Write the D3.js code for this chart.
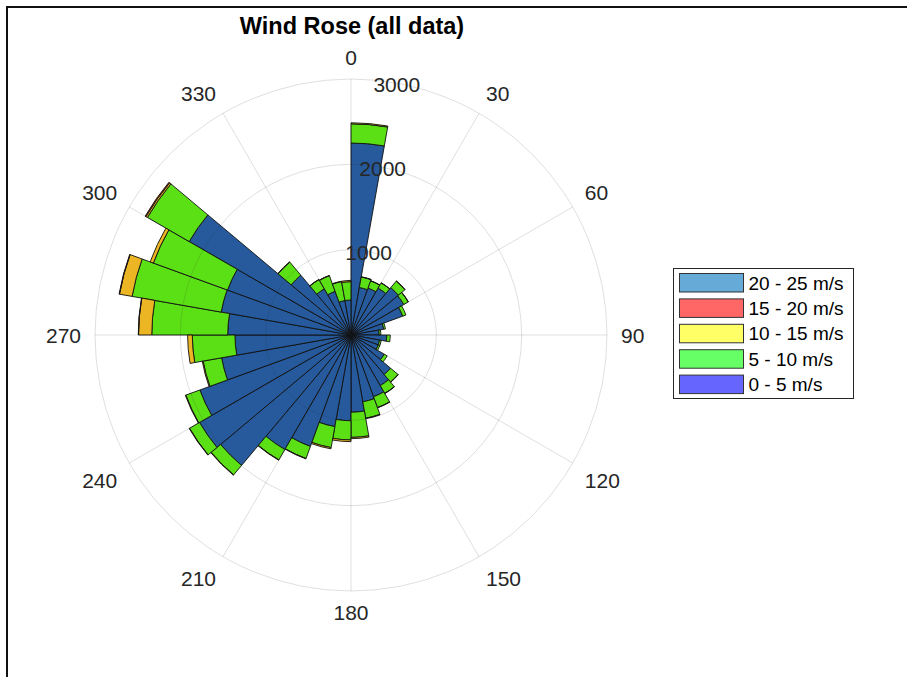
<!DOCTYPE html>
<html>
<head>
<meta charset="utf-8">
<script src="https://cdn.jsdelivr.net/npm/d3@7"></script>
<style>
  html, body { margin: 0; padding: 0; background: #fff; }
  svg { display: block; font-family: "Liberation Sans", Arial, Helvetica, sans-serif; }
</style>
</head>
<body>
<svg id="chart" width="907" height="677"></svg>
<script>
// Direction bins (start of each 10-degree sector, clockwise from north)
const directions = d3.range(0, 360, 10);

// Counts per sector for each wind-speed class
const speed0to5 = [2250, 565, 585, 635, 725, 715, 645, 390, 330, 420, 340, 340,
                   450, 605, 685, 770, 795, 905, 1005, 1090, 1390, 1550, 1995, 2050,
                   1885, 1540, 1360, 1445, 1545, 1540, 2190, 915, 625, 545, 410, 410];
const speed5to10 = [225, 125, 90, 70, 100, 60, 40, 20, 20, 40, 20, 20,
                    40, 115, 105, 135, 195, 295, 225, 250, 150, 140, 145, 135,
                    175, 220, 500, 890, 1060, 925, 565, 200, 125, 195, 225, 215];
const speed10to15 = [12, 3, 2, 2, 3, 2, 0, 0, 0, 0, 0, 0,
                     0, 3, 3, 4, 6, 15, 20, 15, 5, 5, 5, 5,
                     6, 10, 55, 155, 150, 40, 20, 5, 3, 3, 5, 15];
const speed15to20 = [0, 0, 0, 0, 0, 0, 0, 0, 0, 0, 0, 0,
                     0, 0, 0, 0, 0, 0, 0, 0, 0, 0, 0, 0,
                     0, 0, 0, 3, 5, 0, 10, 0, 0, 0, 0, 0];
const speed20to25 = new Array(36).fill(0);

const speedLabels = ["0 - 5 m/s", "5 - 10 m/s", "10 - 15 m/s", "15 - 20 m/s", "20 - 25 m/s"];
const barColors = ["#265a9c", "#5be016", "#ebb523", "#d9402f", "#4d9bd1"];
const legendColors = ["#6666ff", "#66ff66", "#ffff66", "#ff6666", "#66aad8"];

const radialTicks = [1000, 2000, 3000];
const angleTicks = d3.range(0, 360, 30);

const keys = ["s0", "s1", "s2", "s3", "s4"];
const series = [speed0to5, speed5to10, speed10to15, speed15to20, speed20to25];
const table = directions.map((d, i) => {
  const row = { dir: d };
  keys.forEach((k, j) => { row[k] = series[j][i]; });
  return row;
});

const svg = d3.select("#chart");
const cx = 351, cy = 335, rMax = 256;
const textColor = "#262626";

// Figure frame
svg.append("rect")
  .attr("x", 7).attr("y", 7).attr("width", 1000).attr("height", 1000)
  .attr("fill", "none").attr("stroke", "#111").attr("stroke-width", 2);

const r = d3.scaleLinear().domain([0, 3000]).range([0, rMax]);
const g = svg.append("g").attr("transform", `translate(${cx},${cy})`);

// Stacked sectors
const stacked = d3.stack().keys(keys)(table);
const arc = d3.arc()
  .innerRadius(d => r(d[0]))
  .outerRadius(d => r(d[1]))
  .startAngle(d => d.data.dir * Math.PI / 180)
  .endAngle(d => (d.data.dir + 10) * Math.PI / 180);

stacked.forEach((layer, j) => {
  g.append("g")
    .selectAll("path")
    .data(layer.filter(d => d[1] > d[0]))
    .join("path")
    .attr("d", arc)
    .attr("fill", barColors[j])
    .attr("stroke", "#111")
    .attr("stroke-width", 0.9)
    .attr("stroke-linejoin", "round");
});

// Polar grid on top of the bars
const grid = g.append("g").attr("stroke", "#262626").attr("stroke-opacity", 0.15).attr("fill", "none");
grid.selectAll("circle")
  .data(radialTicks)
  .join("circle")
  .attr("r", d => r(d))
  .attr("stroke-width", 1);
grid.selectAll("line")
  .data(angleTicks)
  .join("line")
  .attr("x1", 0).attr("y1", 0)
  .attr("x2", d => rMax * Math.sin(d * Math.PI / 180))
  .attr("y2", d => -rMax * Math.cos(d * Math.PI / 180))
  .attr("stroke-width", 1);

// Angle labels
const fs = 21, cap = 0.716 * fs, labelR = rMax + 14;
g.append("g").selectAll("text")
  .data(angleTicks)
  .join("text")
  .attr("font-size", fs)
  .attr("fill", textColor)
  .each(function (d) {
    const a = d * Math.PI / 180;
    const s = Math.sin(a), c = Math.cos(a);
    const x = labelR * s, y = -labelR * c;
    const anchor = s > 0.01 ? "start" : (s < -0.01 ? "end" : "middle");
    let base = c > 0.01 ? y : (c < -0.01 ? y + cap : y + cap / 2);
    if (c < -0.01 && Math.abs(s) > 0.4) base += 2.5;
    d3.select(this).attr("x", x).attr("y", base).attr("text-anchor", anchor).text(d);
  });

// Radial labels
const la = 9.5 * Math.PI / 180;
g.append("g").selectAll("text")
  .data(radialTicks)
  .join("text")
  .attr("font-size", fs)
  .attr("fill", textColor)
  .attr("text-anchor", "middle")
  .attr("x", d => r(d) * Math.sin(la) + 3.5)
  .attr("y", d => -r(d) * Math.cos(la) + 2 + cap / 2)
  .text(d => d);

// Title
svg.append("text")
  .attr("x", 352).attr("y", 34)
  .attr("text-anchor", "middle")
  .attr("font-size", 23.5)
  .attr("font-weight", "bold")
  .attr("fill", "#000")
  .text("Wind Rose (all data)");

// Legend
const lg = svg.append("g");
lg.append("rect")
  .attr("x", 673.5).attr("y", 268.5).attr("width", 180).attr("height", 130)
  .attr("fill", "#fff").attr("stroke", "#262626").attr("stroke-width", 1);
const order = [4, 3, 2, 1, 0];
const lfs = 19;
order.forEach((k, i) => {
  const y0 = 273.5 + i * 25.4;
  lg.append("rect")
    .attr("x", 679.5).attr("y", y0).attr("width", 64).attr("height", 18.5)
    .attr("fill", legendColors[k]).attr("stroke", "#333").attr("stroke-width", 1);
  lg.append("text")
    .attr("x", 748.5).attr("y", y0 + 9.25 + 0.358 * lfs)
    .attr("font-size", lfs)
    .attr("fill", "#000")
    .text(speedLabels[k]);
});
</script>
</body>
</html>
